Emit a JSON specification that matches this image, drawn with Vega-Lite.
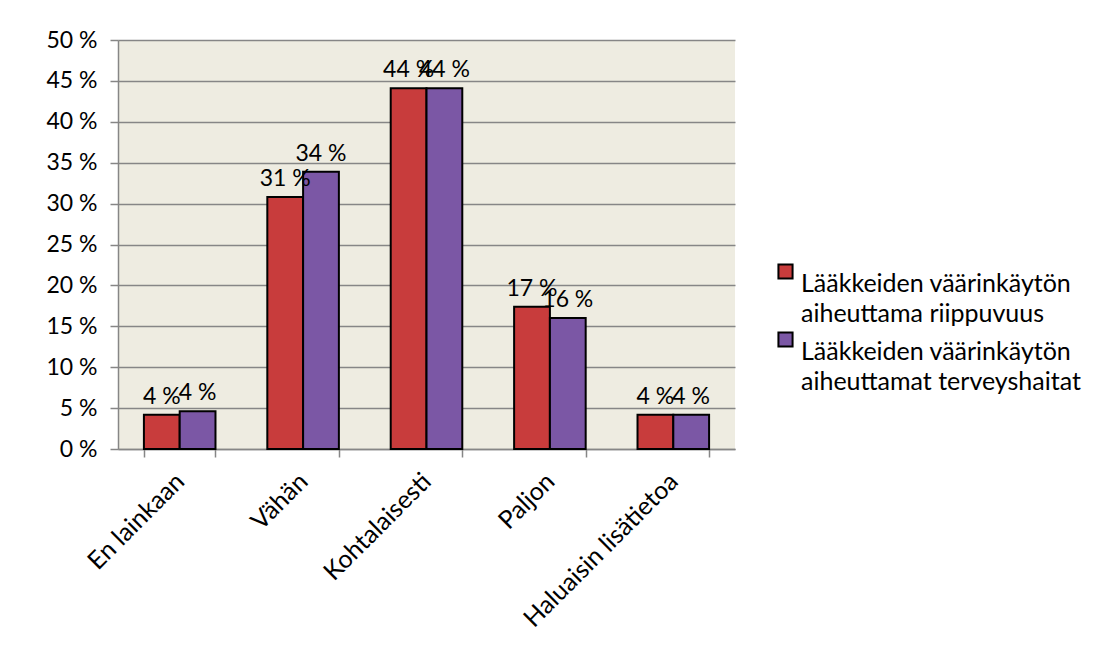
{
  "$schema": "https://vega.github.io/schema/vega-lite/v6.json",
  "width": 617,
  "height": 409,
  "autosize": {"type": "none"},
  "padding": {"left": 118, "top": 40, "right": 359, "bottom": 213},
  "background": "white",
  "config": {
    "font": "Lato",
    "view": {"fill": "#eeece1", "stroke": null},
    "axis": {"labelFont": "Lato", "labelColor": "#000000", "titleFont": "Lato"},
    "legend": {"labelFont": "Lato"}
  },
  "data": {
    "values": [
      {"kategoria": "En lainkaan", "sarja": "Lääkkeiden väärinkäytön|aiheuttama riippuvuus", "arvo": 4.2, "nimi": "4 %"},
      {"kategoria": "En lainkaan", "sarja": "Lääkkeiden väärinkäytön|aiheuttamat terveyshaitat", "arvo": 4.6, "nimi": "4 %"},
      {"kategoria": "Vähän", "sarja": "Lääkkeiden väärinkäytön|aiheuttama riippuvuus", "arvo": 30.8, "nimi": "31 %"},
      {"kategoria": "Vähän", "sarja": "Lääkkeiden väärinkäytön|aiheuttamat terveyshaitat", "arvo": 33.9, "nimi": "34 %"},
      {"kategoria": "Kohtalaisesti", "sarja": "Lääkkeiden väärinkäytön|aiheuttama riippuvuus", "arvo": 44.1, "nimi": "44 %"},
      {"kategoria": "Kohtalaisesti", "sarja": "Lääkkeiden väärinkäytön|aiheuttamat terveyshaitat", "arvo": 44.1, "nimi": "44 %"},
      {"kategoria": "Paljon", "sarja": "Lääkkeiden väärinkäytön|aiheuttama riippuvuus", "arvo": 17.4, "nimi": "17 %"},
      {"kategoria": "Paljon", "sarja": "Lääkkeiden väärinkäytön|aiheuttamat terveyshaitat", "arvo": 16.0, "nimi": "16 %"},
      {"kategoria": "Haluaisin lisätietoa", "sarja": "Lääkkeiden väärinkäytön|aiheuttama riippuvuus", "arvo": 4.2, "nimi": "4 %"},
      {"kategoria": "Haluaisin lisätietoa", "sarja": "Lääkkeiden väärinkäytön|aiheuttamat terveyshaitat", "arvo": 4.2, "nimi": "4 %"}
    ]
  },
  "encoding": {
    "x": {
      "field": "kategoria",
      "type": "nominal",
      "sort": null,
      "scale": {"paddingInner": 0.42, "paddingOuter": 0.21},
      "axis": {
        "title": null,
        "labelAngle": -45,
        "labelAlign": "right",
        "labelBaseline": "middle",
        "labelFontSize": 25,
        "labelPadding": 20,
        "labelLimit": 400,
        "tickBand": "extent",
        "tickColor": "#868686",
        "tickSize": 8,
        "tickWidth": 1.5,
        "domainColor": "#868686",
        "domainWidth": 1.5
      }
    },
    "xOffset": {"field": "sarja", "type": "nominal", "sort": null},
    "y": {
      "field": "arvo",
      "type": "quantitative",
      "scale": {"domain": [0, 50]},
      "axis": {
        "title": null,
        "values": [0, 5, 10, 15, 20, 25, 30, 35, 40, 45, 50],
        "labelExpr": "datum.value + ' %'",
        "labelFontSize": 23,
        "grid": true,
        "gridColor": "#868686",
        "gridWidth": 1.5,
        "tickColor": "#868686",
        "tickSize": 8,
        "tickWidth": 1.5,
        "domainColor": "#868686",
        "domainWidth": 1.5,
        "labelPadding": 13
      }
    }
  },
  "layer": [
    {
      "mark": {"type": "bar", "stroke": "#000000", "strokeWidth": 2},
      "encoding": {
        "color": {
          "field": "sarja",
          "type": "nominal",
          "sort": null,
          "scale": {"range": ["#c83c3c", "#7b57a5"]},
          "legend": {
            "title": null,
            "orient": "none",
            "legendX": 655,
            "legendY": 219,
            "labelExpr": "split(datum.value, '|')",
            "labelFontSize": 25,
            "labelColor": "#000000",
            "labelLimit": 400,
            "labelOffset": 3,
            "symbolType": "square",
            "symbolSize": 200,
            "symbolStrokeColor": "#000000",
            "symbolStrokeWidth": 2,
            "rowPadding": -15,
            "labelBaseline": "top",
            "encode": {"labels": {"update": {"lineHeight": {"value": 30}}}}
          }
        }
      }
    },
    {
      "mark": {"type": "text", "baseline": "bottom", "dy": -6, "fontSize": 23, "font": "Lato", "color": "#000000"},
      "encoding": {
        "text": {"field": "nimi", "type": "nominal"}
      }
    }
  ]
}
